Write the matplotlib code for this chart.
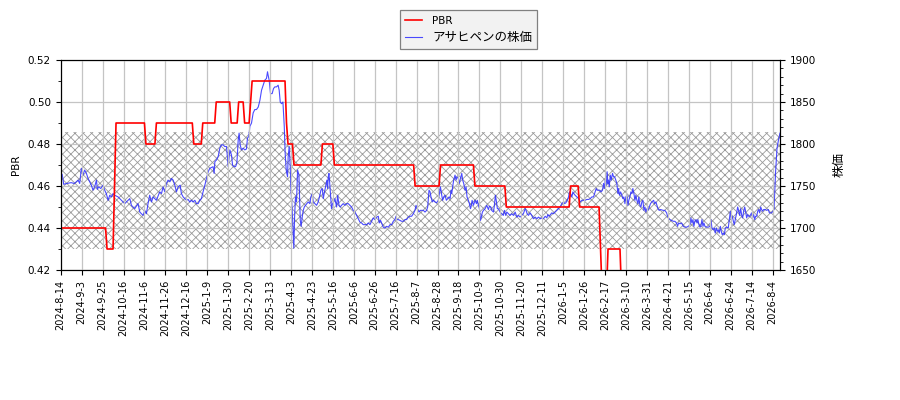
import numpy as np
import matplotlib
matplotlib.use("Agg")
import matplotlib.pyplot as plt
from matplotlib.ticker import MultipleLocator, FixedLocator

plt.rcParams['font.family'] = ['DejaVu Sans', 'Noto Sans CJK JP']
plt.rcParams['hatch.linewidth'] = 0.6

# ---- x axis: trading-day number and its date labels (every 14 trading days) ----
n_days = 482
tick_step = 14
tick_labels = ['2024-8-14', '2024-9-3', '2024-9-25', '2024-10-16', '2024-11-6', '2024-11-26',
               '2024-12-16', '2025-1-9', '2025-1-30', '2025-2-20', '2025-3-13', '2025-4-3',
               '2025-4-23', '2025-5-16', '2025-6-6', '2025-6-26', '2025-7-16', '2025-8-7',
               '2025-8-28', '2025-9-18', '2025-10-9', '2025-10-30', '2025-11-20', '2025-12-11',
               '2026-1-5', '2026-1-26', '2026-2-17', '2026-3-10', '2026-3-31', '2026-4-21',
               '2026-5-15', '2026-6-4', '2026-6-24', '2026-7-14', '2026-8-4']

# ---- stock price (right axis) : trading-day position and price ----
price_day = [0, 1, 2, 4, 7, 9, 10.5, 11.6, 12.7, 13.8, 14.9, 16, 17.2, 18.3, 19.4, 20.5, 21.6, 22.7, 23.9, 24.5,
             25.4, 26.8, 28.3, 29.4, 30.5, 31.7, 32.8, 33.9, 35, 36.1, 38.4, 40.6, 42.8, 45.1, 46.2, 47.3, 49.5,
             51.7, 52.9, 54, 55.1, 56.2, 57.3, 58.4, 59.5, 60.7, 61.8, 64, 66.2, 67.4, 68.5, 69.6, 70.7, 71.8, 73,
             74.1, 75.2, 76.3, 77.4, 78.5, 79.9,
             80.7, 81.9, 83.0, 84.1, 85.2, 86.3, 87.4, 88.5, 89.7, 90.8, 91.9, 93.0, 94.1, 95.2, 96.4, 97.5, 98.6,
             99.7, 100.8, 101.9, 102.6, 103.1, 104.2, 105.3, 106.4, 107.5, 108.6, 109.7, 110.9, 112.0, 113.1,
             114.2, 114.9, 116.0, 116.9, 117.8, 118.7, 119.3, 120.0, 120.9, 122.0, 123.1, 124.2, 124.9, 125.8,
             126.5, 127.6, 128.7, 129.8, 130.9, 132.1, 133.2, 134.3, 135.4, 136.5, 137.6, 138.3, 138.7, 139.4,
             140.3, 141.4, 142.3, 143.2, 144.3, 145.4, 146.1, 146.8, 147.7, 148.6, 149.5, 150.1, 150.8, 151.2,
             151.7, 152.1, 152.8, 153.5, 153.9, 154.8, 155.5, 155.9, 156.4, 157.0, 157.7, 158.4, 159.3, 159.9,
             160.2, 160.8, 161.5, 162.2, 162.9, 163.7, 164.6, 165.5, 166.6, 167.3, 168.2, 168.9, 170.0, 171.1,
             172.2, 173.3, 174.0, 174.9, 175.6, 176.2, 177.1, 178.0, 178.5, 178.9, 179.4, 180.0, 180.7, 181.1,
             181.8, 182.5, 183.4, 184.5, 185.2, 186.1, 186.9, 187.8, 188.9, 190.1, 191.2, 192.3, 193.4, 194.5,
             195.6, 196.8, 197.9, 199.0, 200.1, 201.2, 202.3, 203.5, 204.6, 205.7, 206.8, 207.9, 209.0, 210.1,
             211.3, 212.4, 213.0, 213.9, 214.6, 215.7, 216.8, 217.9, 219.1, 220.2, 221.3, 222.4, 223.5, 224.2,
             224.9, 225.8, 226.9, 228.0, 229.1, 230.2, 231.3, 232.5, 233.6, 234.7, 235.8, 236.9, 237.6, 238.5,
             239.6, 240.5,
             241.4, 242.5, 243.6, 244.7, 245.4, 246.3, 247.0, 247.6, 248.5, 249.2, 250.3, 251.4, 252.5, 253.2,
             253.9, 254.3, 254.8, 255.4, 256.1, 257.0, 257.9, 258.8, 259.7, 260.4, 261.0, 261.5, 262.1, 262.8,
             263.7, 264.4, 265.0, 265.9, 266.6, 267.3, 268.2, 268.8, 269.5, 270.4, 271.1, 271.7, 272.6, 273.3,
             274.0, 274.4, 275.1, 276.0, 277.1, 278.0, 278.6, 279.3, 280.0, 280.7, 281.3, 282.0, 282.7, 283.8,
             284.9, 286.0, 286.7, 287.6, 288.2, 289.4, 290.0, 290.7, 291.4, 292.0, 292.7, 293.8, 294.9, 296.0,
             296.7, 297.6, 298.3, 299.4, 300.5, 301.6, 302.8, 303.9, 305.0, 306.1, 307.2, 308.3, 309.4, 310.6,
             311.2, 311.9, 312.8, 313.9, 315.0, 316.1, 317.3, 318.4, 319.5, 320.8,
             321.7, 322.8, 324.0, 325.1, 325.7, 326.6, 327.5, 328.4, 329.5, 330.6, 331.8, 332.9, 334.0, 335.1,
             336.2, 336.9, 337.8, 338.7, 339.6, 340.2, 340.9, 341.8, 342.5, 343.1, 344.0, 345.1, 346.3, 347.4,
             348.5, 349.6, 350.7, 351.8, 353.0, 354.1, 355.2, 356.3, 357.4, 358.1, 358.7, 359.6, 360.5, 361.4,
             362.3, 363.0, 363.7, 364.1, 364.8, 365.4, 365.9, 366.3, 366.8, 367.5, 368.1, 369.0, 369.7, 370.4,
             371.2, 371.9, 372.6, 373.0, 373.7, 374.4, 375.3, 375.9, 376.6, 377.3, 377.9, 378.6, 379.3, 379.9,
             380.6, 381.3, 382.0, 382.6, 383.3, 384.0, 384.6, 385.3, 386.0, 386.6, 387.3, 388.0, 388.6, 389.3,
             390.0, 390.7, 391.3, 392.0, 392.7, 393.6, 394.4, 395.3, 396.5, 397.1, 398.0, 398.7, 399.4, 400.2,
             401.1,
             402.9, 404.0, 405.2, 405.8, 406.5, 407.4, 408.5, 409.6, 410.7, 411.8, 412.5, 413.2, 414.1, 415.2,
             416.3, 417.4, 418.5, 419.7, 420.8, 421.4, 422.1, 422.8, 423.4, 424.1, 424.8, 425.5, 426.1, 426.8,
             427.5, 428.1, 428.8, 429.5, 430.1, 430.8, 431.9, 433.0, 434.2, 434.8, 435.5, 436.4, 437.1, 437.7,
             438.4, 439.1, 439.7, 440.4, 441.1, 441.7, 442.4, 443.1, 443.8, 444.4, 445.3, 446.4, 447.1, 447.8,
             448.4, 449.1, 449.8, 450.4, 451.1, 452.0, 452.7, 453.3, 454.0, 454.7, 455.4, 456.0, 456.7, 457.4,
             458.0, 458.7, 459.4, 460.0, 460.7, 461.4, 462.0, 462.7, 463.4, 464.1, 464.7, 465.4, 466.1, 466.7,
             467.4, 468.1, 468.7, 469.4, 470.1, 471.0, 472.1, 473.2, 473.9, 474.5, 475.4, 476.3, 477.0, 478.0,
             479.0, 480.0, 481.0]

price_yen = [1758, 1764, 1752, 1753, 1754, 1753, 1755, 1757, 1753, 1771, 1763, 1769, 1765, 1759, 1755, 1751, 1745,
             1749, 1757, 1746, 1749, 1747, 1751, 1745, 1741, 1733, 1739, 1737, 1741, 1739, 1737, 1733, 1729, 1733,
             1735, 1727, 1723, 1729, 1719, 1717, 1715, 1721, 1717, 1729, 1739, 1731, 1737, 1733, 1743, 1741, 1749,
             1743, 1753, 1757, 1755, 1759, 1757, 1751, 1743, 1749, 1751,
             1741, 1737, 1735, 1733, 1734, 1731, 1733, 1731, 1733, 1729, 1729, 1733, 1735, 1743, 1751, 1759, 1767,
             1771, 1772, 1773, 1765, 1779, 1781, 1785, 1795, 1799, 1799, 1797, 1797, 1773, 1793, 1787, 1775, 1773,
             1773, 1777, 1805, 1813, 1799, 1793, 1795, 1793, 1794, 1807, 1809, 1821, 1825, 1837, 1841, 1841, 1844,
             1852, 1864, 1870, 1876, 1878, 1886, 1882, 1876, 1860, 1860, 1866, 1868, 1868, 1870, 1864, 1850, 1848,
             1850, 1821, 1789, 1769, 1765, 1761, 1785, 1797, 1773, 1749, 1721, 1694, 1676, 1713, 1737, 1731, 1769,
             1763, 1729,
             1709, 1702, 1713, 1721, 1725, 1727, 1729, 1731, 1729, 1737, 1741, 1731, 1729, 1727, 1731, 1739, 1745,
             1747, 1735, 1741, 1749, 1757, 1747, 1761, 1765, 1751, 1733, 1723, 1729, 1731, 1735, 1725, 1739, 1727,
             1725, 1727, 1729, 1727, 1729, 1729, 1727, 1725, 1721, 1719, 1715, 1711, 1707, 1706, 1704, 1704, 1704,
             1706, 1704, 1708, 1712, 1710, 1713, 1714, 1706, 1709, 1706, 1701, 1700, 1702, 1701, 1704, 1704, 1708,
             1710, 1714, 1710, 1710, 1709, 1708, 1708, 1710, 1710, 1713, 1714, 1714, 1717, 1721, 1727, 1723, 1719,
             1721,
             1721, 1721, 1719, 1721, 1725, 1745, 1743, 1737, 1731, 1733, 1731, 1730, 1733, 1741, 1749, 1745, 1739,
             1733, 1737, 1739, 1733, 1735, 1737, 1735, 1745, 1741, 1749, 1757, 1763, 1757, 1761, 1759, 1753, 1759,
             1765, 1757, 1753, 1745, 1749, 1737, 1733, 1729, 1723, 1725, 1733, 1727, 1733, 1729, 1733, 1727, 1723,
             1709, 1713, 1719, 1721, 1723, 1727, 1722, 1726, 1725, 1721, 1719, 1727, 1739, 1731, 1723, 1723, 1719,
             1717, 1715, 1721, 1715, 1719, 1717, 1715, 1717, 1715, 1719, 1713, 1715, 1713, 1715, 1717, 1723, 1721,
             1717, 1715, 1718, 1715, 1711, 1713, 1711, 1713, 1711,
             1712, 1711, 1714, 1712, 1716, 1714, 1716, 1718, 1717, 1719, 1721, 1723, 1725, 1729, 1731, 1729, 1730,
             1733, 1737, 1743, 1741, 1737, 1743, 1741, 1739, 1737, 1735, 1731, 1733, 1733, 1733, 1734, 1734, 1735,
             1737, 1737, 1743, 1747, 1745, 1745, 1745, 1743, 1745, 1753, 1747, 1757, 1751, 1767, 1753, 1757, 1749,
             1763, 1757, 1765, 1761, 1761, 1757, 1753, 1741, 1747, 1739, 1743, 1739, 1735, 1737, 1729, 1737, 1739,
             1727, 1733, 1737, 1743, 1741, 1747, 1741, 1733, 1739, 1733, 1729, 1737, 1727, 1725, 1731, 1733, 1721,
             1725, 1719, 1723, 1721, 1725, 1729, 1731, 1733, 1729, 1731, 1727, 1723, 1721, 1722,
             1721, 1721, 1718, 1714, 1712, 1710, 1709, 1708, 1708, 1706, 1702, 1706, 1705, 1706, 1702, 1701, 1701,
             1702, 1704, 1712, 1706, 1710, 1702, 1708, 1710, 1706, 1710, 1704, 1701, 1702, 1710, 1702, 1706, 1702,
             1701, 1701, 1702, 1710, 1700, 1698, 1700, 1694, 1700, 1696, 1698, 1694, 1702, 1696, 1692, 1694, 1692,
             1700, 1701, 1700, 1710, 1720, 1710, 1714, 1708, 1704, 1710, 1718, 1725, 1721, 1715, 1723, 1715, 1712,
             1720, 1725, 1720, 1712, 1716, 1714, 1714, 1716, 1718, 1712, 1716, 1710, 1714, 1714, 1720, 1722, 1718,
             1725, 1722, 1720, 1722, 1722, 1721, 1722, 1718, 1718, 1718, 1720, 1722, 1765, 1795, 1805, 1813]

# ---- PBR (left axis): trading day where each level starts, and the level ----
pbr_from_day = [0, 31, 36, 37, 57, 64, 89, 95, 104, 114, 119, 123, 127, 128, 151, 152, 156, 175, 183,
                237, 254, 277, 298, 341, 347, 361, 362, 366, 375]
pbr_level = [0.44, 0.43, 0.46, 0.49, 0.48, 0.49, 0.48, 0.49, 0.50, 0.49, 0.50, 0.49, 0.50, 0.51, 0.49,
             0.48, 0.47, 0.48, 0.47, 0.46, 0.47, 0.46, 0.45, 0.46, 0.45, 0.43, 0.41, 0.43, 0.41]

# hatched price band (right-axis units)
band_low, band_high = 1675, 1814

days = np.arange(n_days)
pbr = np.array(pbr_level)[np.searchsorted(pbr_from_day, days, side='right') - 1]

fig = plt.figure(figsize=(9, 4), dpi=100)
ax1 = fig.add_axes([60.7 / 900, 130 / 400, (780 - 60.7) / 900, 210 / 400])
ax2 = ax1.twinx()

# band + horizontal grid on the price axis (drawn first, underneath)
ax2.fill_between([0, n_days - 1], band_low, band_high, facecolor='none', edgecolor='#9a9a9a',
                 hatch='xxxx', linewidth=0, zorder=0.3)
ax2.yaxis.grid(True, color='#c4c4c4', linewidth=0.9)
ax2.set_axisbelow(True)
l2, = ax2.plot(price_day, price_yen, color='#2b2bff', lw=0.8, alpha=0.85, label='アサヒペンの株価')

# PBR axis on top
ax1.set_zorder(ax2.get_zorder() + 1)
ax1.patch.set_visible(False)
ax1.xaxis.grid(True, color='#c4c4c4', linewidth=0.9)
ax1.set_axisbelow(True)
l1, = ax1.plot(days, pbr, color='red', lw=1.2, label='PBR')

ax1.set_xlim(0, n_days - 1)
ax1.set_ylim(0.42, 0.52)
ax2.set_ylim(1650, 1900)

ax1.yaxis.set_major_locator(MultipleLocator(0.02))
ax1.yaxis.set_minor_locator(MultipleLocator(0.01))
ax2.yaxis.set_major_locator(MultipleLocator(50))
ax2.yaxis.set_minor_locator(MultipleLocator(10))
ax1.yaxis.set_major_formatter(plt.FuncFormatter(lambda v, p: f'{v:.2f}'))

tick_pos = np.arange(len(tick_labels)) * tick_step
ax1.xaxis.set_major_locator(FixedLocator(tick_pos))
ax1.set_xticklabels(tick_labels, rotation=90, fontsize=7)
ax1.tick_params(axis='y', labelsize=7.5)
ax2.tick_params(axis='y', labelsize=7.5)

ax1.set_ylabel('PBR', fontsize=7.5, labelpad=5)
ax2.set_ylabel('株価', fontsize=9, labelpad=12)

leg = fig.legend([l1, l2], ['PBR', 'アサヒペンの株価'], loc='upper center',
                 bbox_to_anchor=(0.5206, 0.99), fancybox=False, framealpha=1,
                 facecolor='#f2f2f2', edgecolor='#808080', handlelength=1.4, fontsize=9,
                 borderpad=0.4, labelspacing=0.4)
leg.get_texts()[0].set_fontsize(7.5)
leg.get_frame().set_linewidth(0.9)

fig.savefig('out.png', dpi=100)
